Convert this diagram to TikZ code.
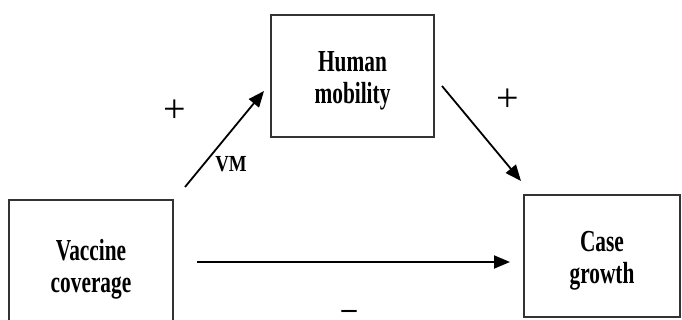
\documentclass[tikz,border=0pt]{standalone}
\usepackage{fontspec}
\setmainfont{Liberation Serif}
\newfontfamily\boxfont[FakeStretch=0.7]{Liberation Serif}
\newfontfamily\labelfont[FakeStretch=0.82]{Liberation Serif}
\usetikzlibrary{arrows.meta}

% a strut that lowers the first line of a box text a little
\newcommand{\toppad}{\rule{0pt}{30pt}}

\tikzset{
  varbox/.style={draw=black!80, line width=1.2pt, fill=white, inner sep=0pt,
    align=center, font=\boxfont\bfseries\fontsize{30.5}{32}\selectfont},
  arr/.style={line width=1.8pt, -{Triangle[length=16pt,width=13pt]}},
  sign/.style={font=\fontsize{40}{42}\selectfont, inner sep=0pt},
  pathlabel/.style={font=\labelfont\bfseries\fontsize{23}{25}\selectfont, inner sep=0pt}
}

\begin{document}
\begin{tikzpicture}[x=1pt, y=-1pt]
  \useasboundingbox (0,0) rectangle (682,320);
  \clip (0,0) rectangle (682,320);

  % the three variables
  \node[varbox, minimum width=164pt, minimum height=130pt] (vc) at (91,265) {\toppad Vaccine\\coverage};
  \node[varbox, minimum width=163pt, minimum height=122pt] (hm) at (352.5,76) {\toppad Human\\mobility};
  \node[varbox, minimum width=156pt, minimum height=122pt] (cg) at (602,256) {\toppad Case\\growth};

  % arrow end points
  \coordinate (vmA) at (185,187);
  \coordinate (vmB) at (264,91);
  \coordinate (hcA) at (442,86);
  \coordinate (hcB) at (521,181);
  \coordinate (dA) at (197,262);
  \coordinate (dB) at (510,262);

  % paths
  \draw[arr] (vmA) -- (vmB);
  \draw[arr] (hcA) -- (hcB);
  \draw[arr] (dA) -- (dB);

  % labels and signs
  \node[pathlabel] (vm) at (231,164) {VM};
  \node[sign] (p1) at (175,111) {+};
  \node[sign] (p2) at (508,100) {+};
  \node[font=\bfseries\fontsize{30}{32}\selectfont, inner sep=0pt,
        text height=10pt, text depth=0pt] (m1) at (349,313.5) {–};
\end{tikzpicture}
\end{document}
